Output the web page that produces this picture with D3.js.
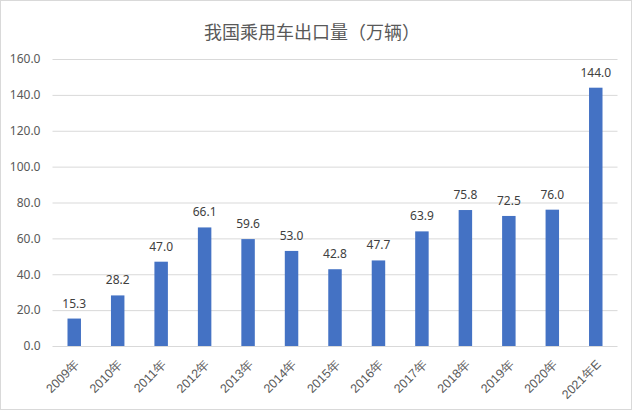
<!DOCTYPE html>
<html>
<head>
<meta charset="utf-8">
<script src="https://cdn.jsdelivr.net/npm/d3@7"></script>
<style>
  body { margin: 0; background: #fff; }
  svg { display: block; font-family: "Noto Sans CJK SC", "Noto Sans", sans-serif; }
</style>
</head>
<body>
<svg id="chart"></svg>
<script>
var years = ["2009年", "2010年", "2011年", "2012年", "2013年", "2014年", "2015年",
  "2016年", "2017年", "2018年", "2019年", "2020年", "2021年E"];
var carExports = [15.3, 28.2, 47.0, 66.1, 59.6, 53.0, 42.8, 47.7, 63.9, 75.8, 72.5, 76.0, 144.0];
var yTicks = [0, 20, 40, 60, 80, 100, 120, 140, 160];

var svgWidth = 632,
  svgHeight = 411;

var plotLeft = 52.5,
  plotRight = 617.5,
  plotTop = 59,
  plotBottom = 346;

var svg = d3.select("#chart").attr("width", svgWidth).attr("height", svgHeight);

// frame
svg.append("rect")
  .attr("x", 0.5).attr("y", 0.5)
  .attr("width", svgWidth - 1).attr("height", svgHeight - 2)
  .attr("fill", "#fff")
  .attr("stroke", "#d9d9d9");

svg.append("text")
  .attr("x", 312)
  .attr("y", 39)
  .attr("text-anchor", "middle")
  .attr("font-size", "18px")
  .attr("fill", "#595959")
  .text("我国乘用车出口量（万辆）");

var xScale = d3.scaleBand().domain(years).range([plotLeft, plotRight]).paddingInner(0.69).paddingOuter(0.345);
var yScale = d3.scaleLinear().domain([0, 160]).range([plotBottom, plotTop]);

// grid + y labels
svg.append("g")
  .attr("transform", "translate(" + plotLeft + ",0)")
  .call(d3.axisLeft(yScale)
    .tickValues(yTicks)
    .tickSize(-(plotRight - plotLeft))
    .tickPadding(12)
    .tickFormat(d3.format(".1f")))
  .call(function (g) {
    g.select(".domain").remove();
    g.selectAll(".tick line").attr("stroke", "#d9d9d9");
    g.selectAll(".tick text")
      .attr("fill", "#595959")
      .attr("font-size", "12px")
      .attr("font-family", "\"Noto Sans\", sans-serif");
  });

// bars
svg.selectAll(".bar")
  .data(carExports)
  .enter()
  .append("rect")
  .attr("class", "bar")
  .attr("x", function (d, i) { return xScale(years[i]); })
  .attr("y", function (d) { return yScale(d); })
  .attr("width", xScale.bandwidth())
  .attr("height", function (d) { return plotBottom - yScale(d); })
  .attr("fill", "#4472c4");

// value labels
svg.selectAll(".val")
  .data(carExports)
  .enter()
  .append("text")
  .attr("class", "val")
  .attr("x", function (d, i) { return xScale(years[i]) + xScale.bandwidth() / 2; })
  .attr("y", function (d) { return yScale(d) - 11; })
  .attr("text-anchor", "middle")
  .attr("font-size", "12px")
  .attr("font-family", "\"Noto Sans\", sans-serif")
  .attr("fill", "#404040")
  .text(function (d) { return d.toFixed(1); });

// x labels
svg.append("g")
  .attr("transform", "translate(0," + plotBottom + ")")
  .call(d3.axisBottom(xScale).tickSize(0).tickPadding(0))
  .call(function (g) {
    g.select(".domain").remove();
    g.selectAll(".tick text")
      .attr("fill", "#595959")
      .attr("font-size", "12.5px")
      .attr("dy", null)
      .attr("y", 0)
      .attr("text-anchor", "end")
      .attr("transform", "translate(6,19) rotate(-45)");
  });
</script>
</body>
</html>
